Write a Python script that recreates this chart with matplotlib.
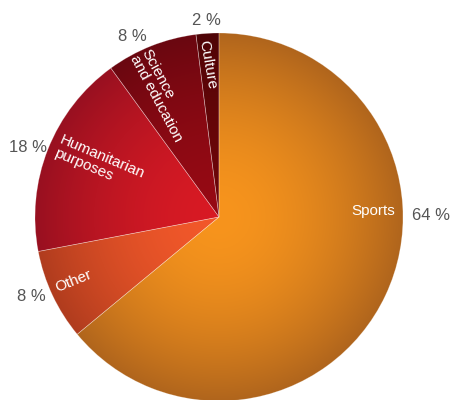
import numpy as np
import matplotlib
matplotlib.use('Agg')
import matplotlib.pyplot as plt
from matplotlib.colors import to_rgb

plt.rcParams['font.family'] = ['Liberation Sans Narrow', 'Liberation Sans', 'DejaVu Sans']

# Data (counter-clockwise from 12 o'clock)
categories = ['Culture', 'Science\nand education', 'Humanitarian\npurposes', 'Other', 'Sports']
shares = [2, 8, 18, 8, 64]
pct_labels = ['2 %', '8 %', '18 %', '8 %', '64 %']

# gradient colours: inner (near centre) -> outer (rim)
inner_colors = ['#6e0609', '#960a14', '#d81a24', '#f2582a', '#f7941d']
outer_colors = ['#4e0406', '#6a0710', '#981020', '#b03c1e', '#b0651c']

# label placement (data units, radius = 1)
name_pos = [(-0.065, 0.83), (-0.31, 0.66), (-0.65, 0.29), (-0.79, -0.35), (0.84, 0.03)]
name_rot = [-80, -62, -23, 22, 0]
pct_pos = [(-0.07, 1.07), (-0.47, 0.98), (-1.04, 0.38), (-1.02, -0.43), (1.15, 0.01)]

fig = plt.figure(figsize=(4.53, 4.0), dpi=100)
ax = fig.add_axes([0, 0, 1, 1])

wedges, _ = ax.pie(shares, startangle=90, counterclock=True, radius=1,
                   wedgeprops=dict(facecolor='none', edgecolor=(1, 1, 1, 0.3),
                                   linewidth=0.5, zorder=3))

# radial gradient fill clipped to each wedge
n = 400
gx, gy = np.meshgrid(np.linspace(-1, 1, n), np.linspace(-1, 1, n))
t = np.clip(np.sqrt(gx ** 2 + gy ** 2), 0, 1) ** 1.8
for w, ci, co in zip(wedges, inner_colors, outer_colors):
    ci = np.array(to_rgb(ci))
    co = np.array(to_rgb(co))
    img = ci[None, None, :] * (1 - t[..., None]) + co[None, None, :] * t[..., None]
    im = ax.imshow(img, extent=(-1, 1, -1, 1), origin='lower', zorder=1,
                   interpolation='bilinear')
    im.set_clip_path(w)

for name, (x, y), rot in zip(categories, name_pos, name_rot):
    ax.text(x, y, name, color='white', fontsize=11, rotation=rot,
            rotation_mode='anchor', ha='center', va='center',
            multialignment='left', linespacing=0.95, zorder=4)

for lab, (x, y) in zip(pct_labels, pct_pos):
    ax.text(x, y, lab, color='#555555', fontsize=12, ha='center', va='center', zorder=4)

ax.set_xlim(-219 / 184, (453 - 219) / 184)
ax.set_ylim(-(400 - 217) / 184, 217 / 184)
ax.set_aspect('auto')
ax.axis('off')

fig.savefig('out.png', dpi=100, facecolor='white')
